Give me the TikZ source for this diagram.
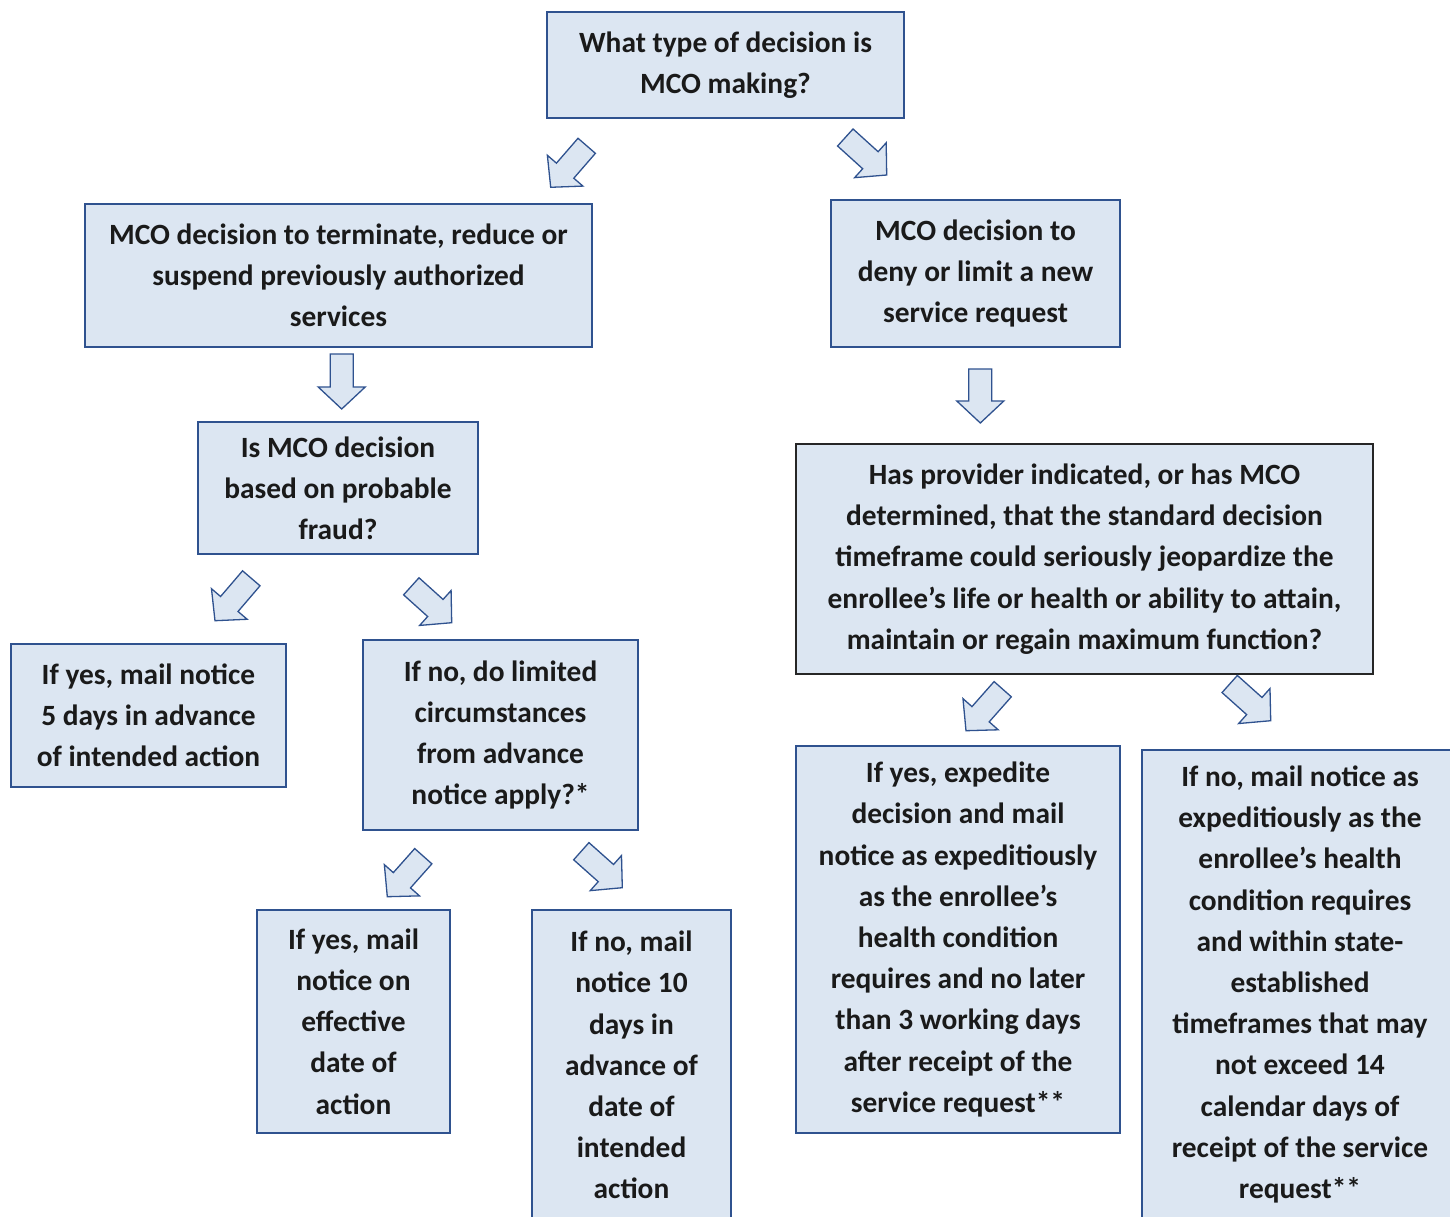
\documentclass[tikz,border=0pt]{standalone}
\usepackage{fontspec}
\setmainfont{Carlito}
\usetikzlibrary{calc}
\definecolor{boxfill}{HTML}{DCE6F2}
\definecolor{boxline}{HTML}{2F528F}
\definecolor{txt}{HTML}{1A1A1A}
\tikzset{
  box/.style={draw=boxline, line width=1.6pt, fill=boxfill, align=center, inner sep=0pt,
    font=\bfseries\fontsize{29.4}{41.2}\selectfont, text=txt},
  blockarrow/.style={draw=boxline, line width=1.3pt, fill=boxfill, line join=miter},
}
\newcommand\blockarr[2]{%
  \coordinate (#1n) at ($(#2)!22pt!(#1)$);
  \draw[blockarrow] ($(#1)!11.5pt!90:(#2)$) -- ($(#1n)!11.5pt!90:(#2)$) -- ($(#1n)!23.5pt!90:(#2)$)
    -- (#2) -- ($(#1n)!23.5pt!-90:(#2)$) -- ($(#1n)!11.5pt!-90:(#2)$) -- ($(#1)!11.5pt!-90:(#2)$) -- cycle;
}
\begin{document}
\begin{tikzpicture}[x=1pt,y=-1pt]
\useasboundingbox (0,0) rectangle (1450,1217);
\clip (0,0) rectangle (1450,1217);
\fill[white] (0,0) rectangle (1450,1217);

\node[box, minimum width=357pt, minimum height=106pt] (top) at (725.5,65) {What type of decision is\\MCO making?};
\node[box, minimum width=507pt, minimum height=143pt] (term) at (338.5,275.5) {MCO decision to terminate, reduce or\\suspend previously authorized\\services};
\node[box, minimum width=289pt, minimum height=147pt] (deny) at (975.5,273.5) {MCO decision to\\deny or limit a new\\service request};
\node[box, minimum width=280pt, minimum height=132pt] (fraud) at (338,488) {Is MCO decision\\based on probable\\fraud?};
\node[box, draw=black!85, minimum width=577pt, minimum height=230pt] (jeop) at (1084.5,559) {Has provider indicated, or has MCO\\determined, that the standard decision\\timeframe could seriously jeopardize the\\enrollee’s life or health or ability to attain,\\maintain or regain maximum function?};
\node[box, minimum width=275pt, minimum height=143pt] (yes5) at (148.5,715.5) {If yes, mail notice\\5 days in advance\\of intended action};
\node[box, minimum width=275pt, minimum height=190pt] (lim) at (500.5,735) {If no, do limited\\circumstances\\from advance\\notice apply?*};
\node[box, minimum width=193pt, minimum height=223pt] (yeseff) at (353.5,1021.5) {If yes, mail\\notice on\\effective\\date of\\action};
\node[box, minimum width=199pt, minimum height=310pt] (no10) at (631.5,1065) {If no, mail\\notice 10\\days in\\advance of\\date of\\intended\\action};
\node[box, minimum width=324pt, minimum height=387pt] (exp) at (958,939.5) {If yes, expedite\\decision and mail\\notice as expeditiously\\as the enrollee’s\\health condition\\requires and no later\\than 3 working days\\after receipt of the\\service request**};
\node[box, minimum width=316pt, minimum height=469pt] (nomail) at (1300,984.5) {If no, mail notice as\\expeditiously as the\\enrollee’s health\\condition requires\\and within state-\\established\\timeframes that may\\not exceed 14\\calendar days of\\receipt of the service\\request**};

% block arrows: tail, tip
\coordinate (a1) at (586.7,145.8); \coordinate (a1h) at (550.7,187.3);
\coordinate (a2) at (845.3,137.5); \coordinate (a2h) at (886.7,175);
\coordinate (a3) at (341.7,354);   \coordinate (a3h) at (341.7,409);
\coordinate (a4) at (980.3,369);   \coordinate (a4h) at (980.3,423);
\coordinate (a5) at (251.3,578.3); \coordinate (a5h) at (215,620.7);
\coordinate (a6) at (411.3,586.3); \coordinate (a6h) at (451.7,622.7);
\coordinate (a7) at (1002.7,689.2); \coordinate (a7h) at (966,730.7);
\coordinate (a8) at (1229.7,684);  \coordinate (a8h) at (1270.7,720.7);
\coordinate (a9) at (423.3,856.2); \coordinate (a9h) at (387.3,896.7);
\coordinate (a10) at (581.3,851.2); \coordinate (a10h) at (622.3,887.7);
\blockarr{a1}{a1h}
\blockarr{a2}{a2h}
\blockarr{a3}{a3h}
\blockarr{a4}{a4h}
\blockarr{a5}{a5h}
\blockarr{a6}{a6h}
\blockarr{a7}{a7h}
\blockarr{a8}{a8h}
\blockarr{a9}{a9h}
\blockarr{a10}{a10h}
\end{tikzpicture}
\end{document}
